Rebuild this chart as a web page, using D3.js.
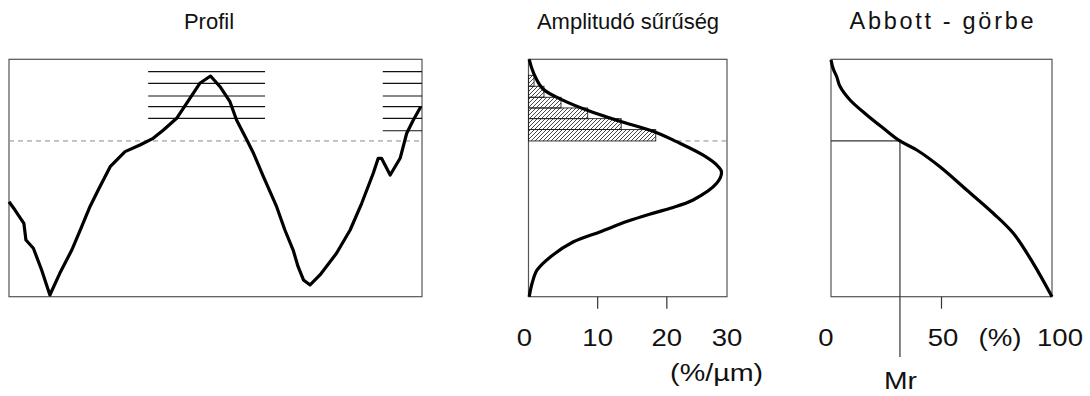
<!DOCTYPE html>
<html>
<head>
<meta charset="utf-8">
<script src="https://cdn.jsdelivr.net/npm/d3@7"></script>
<style>
  body { margin: 0; background: #fff; }
  text { font-family: "Liberation Sans", Arial, sans-serif; fill: #111; }
</style>
</head>
<body>
<div id="chart"></div>
<script>
// profile trace (distance along sample %, height in µm)
const profX = [0, 1.45, 3.6, 4.1, 5.9, 7.9, 9.9, 12.3, 15.2, 17.6, 19.6, 21.6, 24.5, 28.1, 31.7, 34.9, 37.4,
  40.6, 43.0, 46.2, 48.8, 51.1, 53.5, 55.1, 57.6, 59.2, 61.6, 64.8, 66.8, 68.8, 70.0, 71.3,
  72.9, 75.3, 79.3, 82.6, 85.4, 88.2, 89.4, 90.2, 92.3, 94.7, 96.3, 97.9, 99.7];
const profH = [8.0, 7.3, 6.18, 4.78, 4.08, 2.25, 0.14, 1.97, 3.93, 5.9, 7.58, 8.99, 10.95, 12.22, 12.78, 13.34, 14.04,
  15.03, 16.29, 17.98, 18.59, 17.69, 16.43, 14.89, 13.2, 12.08, 10.11, 7.58, 5.62, 3.93, 2.53, 1.41,
  0.99, 1.83, 3.66, 5.62, 7.87, 10.4, 11.66, 11.66, 10.25, 11.66, 13.77, 14.89, 16.01];

// cut level and slice lines
const cutLevel = 13.12;
const sliceLevels = [13.98, 15.03, 16.01, 16.91, 17.98, 18.96];
const leftSliceRange = [33.7, 62.0];
const rightSliceRange = [90.5, 100];

// amplitude density curve (%/µm vs height)
const densX = [0.1, 0.5, 1.0, 2.1, 4.8, 8.5, 13.1, 18.2, 21.4, 25.2, 27.2, 27.9, 27.2, 23.8, 20.5, 17.5, 14.3, 10.4, 6.5, 3.2, 1.25, 0.53, 0.1];
const densH = [20, 19.2, 18.5, 17.5, 16.6, 15.7, 14.8, 13.9, 13.06, 11.94, 11.1, 10.53, 9.55, 8.15, 7.45, 6.95, 6.35, 5.48, 4.63, 3.37, 2.25, 1.15, 0];

// histogram above the cut
const histLevels = [13.12, 14.08, 15.0, 15.9, 16.8, 17.73, 18.65];
const histWidths = [18.4, 13.4, 8.56, 4.7, 2.24, 0.8];
const densTicks = [0, 10, 20, 30];

// abbott curve (material ratio % vs height)
const abbX = [0, 1.0, 2.6, 4.1, 8.6, 16.2, 23.7, 31.2, 38.8, 49.3, 61.4, 73.4, 82.5, 91.5, 100];
const abbH = [19.94, 19.2, 18.53, 17.7, 16.57, 15.31, 14.19, 13.12, 12.36, 10.95, 8.99, 7.03, 5.34, 2.81, 0];
const mr = 31.2;
const abbTicks = [0, 50, 100];

const W = 1090, H = 396;
const svg = d3.select("#chart").append("svg")
  .attr("width", W).attr("height", H);

const plotTop = 59.3, plotBottom = 296.7;
const y = d3.scaleLinear().domain([0, 20]).range([plotBottom, plotTop]);
const xProf = d3.scaleLinear().domain([0, 100]).range([9, 422]);
const xDens = d3.scaleLinear().domain([0, 28.7]).range([528.5, 727]);
const xAbb = d3.scaleLinear().domain([0, 100]).range([831, 1052]);

const boxColor = "#555";

// hatch pattern
const pat = svg.append("defs").append("pattern")
  .attr("id", "hatch")
  .attr("patternUnits", "userSpaceOnUse")
  .attr("width", 4).attr("height", 4);
pat.append("path")
  .attr("d", "M-1,1 l2,-2 M0,4 l4,-4 M3,5 l2,-2")
  .attr("stroke", "#333").attr("stroke-width", 0.9);

function box(x0, x1) {
  svg.append("rect")
    .attr("x", x0).attr("y", plotTop)
    .attr("width", x1 - x0).attr("height", plotBottom - plotTop)
    .attr("fill", "none").attr("stroke", boxColor).attr("stroke-width", 1.2);
}

// text, optionally stretched a bit wider like the scanned figure
function label(txt, cx, by, w, size, adjust) {
  const t = svg.append("text").attr("x", cx).attr("y", by)
    .attr("text-anchor", "middle").style("font-size", (size || 23) + "px")
    .text(txt);
  if (w) t.attr("textLength", w).attr("lengthAdjust", adjust || "spacingAndGlyphs");
}

// ---- Profil ----
box(xProf(0), xProf(100));
label("Profil", 209, 29, null, 22);

svg.append("line")
  .attr("x1", xProf(0)).attr("x2", xProf(100))
  .attr("y1", y(cutLevel)).attr("y2", y(cutLevel))
  .attr("stroke", "#888").attr("stroke-dasharray", "5,4");

svg.append("g").selectAll("line")
  .data(sliceLevels.slice(1))
  .join("line")
  .attr("x1", xProf(leftSliceRange[0])).attr("x2", xProf(leftSliceRange[1]))
  .attr("y1", d => y(d)).attr("y2", d => y(d))
  .attr("stroke", "#111").attr("stroke-width", 1.2);

svg.append("g").selectAll("line")
  .data(sliceLevels)
  .join("line")
  .attr("x1", xProf(rightSliceRange[0])).attr("x2", xProf(rightSliceRange[1]))
  .attr("y1", d => y(d)).attr("y2", d => y(d))
  .attr("stroke", "#111").attr("stroke-width", 1.2);

svg.append("path")
  .datum(d3.zip(profX, profH))
  .attr("fill", "none").attr("stroke", "#000").attr("stroke-width", 3.2)
  .attr("stroke-linejoin", "round")
  .attr("d", d3.line().x(d => xProf(d[0])).y(d => y(d[1])));

// ---- Amplitudó sűrűség ----
box(xDens(0), xDens(28.7));
label("Amplitudó sűrűség", 628, 29, null, 22);

svg.append("g").selectAll("rect")
  .data(histWidths)
  .join("rect")
  .attr("x", xDens(0))
  .attr("y", (d, i) => y(histLevels[i + 1]))
  .attr("width", d => xDens(d) - xDens(0))
  .attr("height", (d, i) => y(histLevels[i]) - y(histLevels[i + 1]))
  .attr("fill", "url(#hatch)")
  .attr("stroke", "#222").attr("stroke-width", 0.9);

svg.append("line")
  .attr("x1", xDens(21.4)).attr("x2", xDens(28.7))
  .attr("y1", y(cutLevel)).attr("y2", y(cutLevel))
  .attr("stroke", "#888").attr("stroke-dasharray", "5,4");

svg.append("path")
  .datum(d3.zip(densX, densH))
  .attr("fill", "none").attr("stroke", "#000").attr("stroke-width", 3.2)
  .attr("d", d3.line().curve(d3.curveCatmullRom.alpha(0.5))
    .x(d => xDens(d[0])).y(d => y(d[1])));

svg.append("g").selectAll("line")
  .data(densTicks.filter(d => d > 0 && d < 28.7))
  .join("line")
  .attr("x1", d => xDens(d)).attr("x2", d => xDens(d))
  .attr("y1", plotBottom).attr("y2", plotBottom + 12)
  .attr("stroke", "#333").attr("stroke-width", 1.2);

densTicks.forEach(d => {
  const s = String(d);
  const cx = Math.min(xDens(d), xDens(28.7)) - (d === 0 ? 4 : 0);
  label(s, cx, 346, s.length * 15.3);
});

label("(%/µm)", xDens(27.2), 381, 93);

// ---- Abbott - görbe ----
box(xAbb(0), xAbb(100));
label("Abbott - görbe", 941.5, 29, 184, 23.5, "spacing");

svg.append("line")
  .attr("x1", xAbb(0)).attr("x2", xAbb(mr))
  .attr("y1", y(cutLevel)).attr("y2", y(cutLevel))
  .attr("stroke", "#333").attr("stroke-width", 1.2);

svg.append("line")
  .attr("x1", xAbb(mr)).attr("x2", xAbb(mr))
  .attr("y1", y(cutLevel)).attr("y2", 357)
  .attr("stroke", "#333").attr("stroke-width", 1.2);

svg.append("path")
  .datum(d3.zip(abbX, abbH))
  .attr("fill", "none").attr("stroke", "#000").attr("stroke-width", 3.2)
  .attr("d", d3.line().curve(d3.curveCatmullRom.alpha(0.5))
    .x(d => xAbb(d[0])).y(d => y(d[1])));

svg.append("line")
  .attr("x1", xAbb(50)).attr("x2", xAbb(50))
  .attr("y1", plotBottom).attr("y2", plotBottom + 12)
  .attr("stroke", "#333").attr("stroke-width", 1.2);

abbTicks.forEach(d => {
  const s = String(d);
  const cx = xAbb(d) + (d === 0 ? -5 : d === 100 ? 8 : 1.5);
  label(s, cx, 346, s.length * 15.3);
});

label("(%)", xAbb(76.5), 346, 43);
label("Mr", xAbb(mr) + 0.5, 389, 33);
</script>
</body>
</html>
